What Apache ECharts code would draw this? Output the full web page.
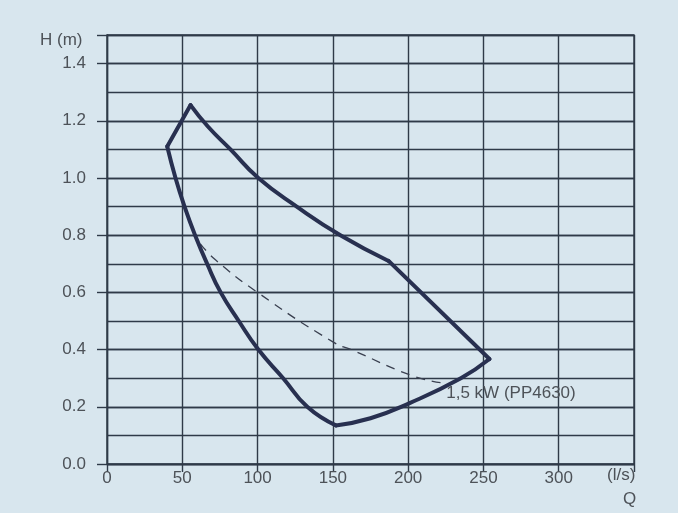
<!DOCTYPE html>
<html>
<head>
<meta charset="utf-8">
<script src="https://cdn.jsdelivr.net/npm/echarts@6/dist/echarts.min.js"></script>
<style>
html,body{margin:0;padding:0;background:#d8e6ee;}
#chart{width:678px;height:513px;}
</style>
</head>
<body>
<div id="chart"></div>
<script>
// Operating envelope outline (Q in l/s, H in m), split into its edges
var leftEdgeQ   = [40, 55.5];
var leftEdgeH   = [1.11, 1.255];
var upperCurveQ = [55.5, 67, 82, 100.5, 126, 155, 187];
var upperCurveH = [1.255, 1.18, 1.10, 1.00, 0.90, 0.80, 0.71];
var rightEdgeQ  = [187, 254];
var rightEdgeH  = [0.71, 0.367];
var lowerCurveQ = [254, 235, 201, 175, 152];
var lowerCurveH = [0.367, 0.30, 0.213, 0.16, 0.135];
var leftCurveQ  = [152, 133, 117, 100.5, 87.5, 75.5, 66.5, 58.5, 51.5, 45.5, 40];
var leftCurveH  = [0.135, 0.20, 0.30, 0.40, 0.50, 0.60, 0.70, 0.80, 0.90, 1.00, 1.11];
// Dashed 1,5 kW curve
var dashQ = [62, 72, 100, 150, 164, 202, 222];
var dashH = [0.77, 0.714, 0.60, 0.427, 0.396, 0.31, 0.284];
var dashLabel = '1,5 kW (PP4630)';
var xTicks = [0, 50, 100, 150, 200, 250, 300];
var yTicks = [0.0, 0.2, 0.4, 0.6, 0.8, 1.0, 1.2, 1.4];

var lineCol = '#2f3a48';
var curveCol = '#283050';
var textCol = '#4d5258';
var font = '"Liberation Sans", Arial, Helvetica, sans-serif';
var fs = 17;

function pairs(qs, hs) { return qs.map(function (q, i) { return [q, hs[i]]; }); }
function edge(qs, hs, smooth) {
  return {
    type: 'line', data: pairs(qs, hs), symbol: 'none', smooth: smooth,
    lineStyle: { color: curveCol, width: 4, cap: 'round', join: 'round' }, z: 5
  };
}

var chart = echarts.init(document.getElementById('chart'));
chart.setOption({
  backgroundColor: '#d8e6ee',
  animation: false,
  grid: { left: 107, right: 44, top: 35, bottom: 49, show: true, borderColor: lineCol, borderWidth: 1.4, backgroundColor: 'transparent' },
  xAxis: {
    type: 'value', min: 0, max: 350, interval: 50,
    axisLine: { show: true, lineStyle: { color: lineCol, width: 1.4 } },
    axisTick: { show: true, length: 8, lineStyle: { color: lineCol, width: 1.4 } },
    axisLabel: { margin: 6, color: textCol, fontSize: fs, fontFamily: font,
      formatter: function (v) { return xTicks.indexOf(v) >= 0 ? String(v) : ''; } },
    splitLine: { show: true, lineStyle: { color: lineCol, width: 1.4 } }
  },
  yAxis: [{
    type: 'value', min: 0, max: 1.5, interval: 0.2,
    axisLine: { show: true, lineStyle: { color: lineCol, width: 1.4 } },
    axisTick: { show: true, length: 10, lineStyle: { color: lineCol, width: 1.4 } },
    axisLabel: { margin: 21, color: textCol, fontSize: fs, fontFamily: font,
      formatter: function (v) {
        for (var i = 0; i < yTicks.length; i++) { if (Math.abs(yTicks[i] - v) < 1e-6) return yTicks[i].toFixed(1); }
        return '';
      } },
    splitLine: { show: true, lineStyle: { color: lineCol, width: 1.4 } }
  }, {
    type: 'value', min: 0, max: 1.5, interval: 0.1, position: 'left',
    axisLine: { show: false }, axisTick: { show: false }, axisLabel: { show: false },
    splitLine: { show: true, lineStyle: { color: lineCol, width: 1.4 } }
  }],
  graphic: [
    { type: 'text', left: 40, top: 32, style: { text: 'H (m)', fill: textCol, font: fs + 'px ' + font } },
    { type: 'text', left: 607, top: 467, style: { text: '(l/s)', fill: textCol, font: fs + 'px ' + font } },
    { type: 'text', left: 623, top: 491, style: { text: 'Q', fill: textCol, font: fs + 'px ' + font } }
  ],
  series: [
    edge(leftEdgeQ, leftEdgeH, false),
    edge(upperCurveQ, upperCurveH, 0.5),
    edge(rightEdgeQ, rightEdgeH, false),
    edge(lowerCurveQ, lowerCurveH, 0.5),
    edge(leftCurveQ, leftCurveH, 0.5),
    {
      type: 'line', data: pairs(dashQ, dashH), symbol: 'none', smooth: 0.5,
      lineStyle: { color: '#3a4050', width: 1.3, type: [9, 7] }, z: 4,
      endLabel: { show: true, formatter: dashLabel, color: textCol, fontSize: fs, fontFamily: font,
        distance: 5, offset: [0, 11] }
    }
  ]
});
</script>
</body>
</html>
